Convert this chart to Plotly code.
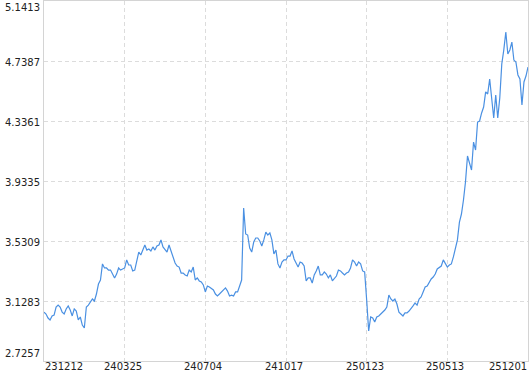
import plotly.graph_objects as go

# ---- data ----
values = [
    3.054, 3.041, 3.014, 3.001, 3.028, 3.034, 3.088, 3.101, 3.088, 3.054,
    3.041, 3.075, 3.095, 3.068, 3.028, 3.075, 3.061, 3.001, 3.021, 2.967,
    2.947, 3.088, 3.101, 3.122, 3.142, 3.128, 3.175, 3.242, 3.269, 3.377,
    3.350, 3.350, 3.336, 3.336, 3.309, 3.283, 3.309, 3.350, 3.336, 3.343,
    3.350, 3.404, 3.370, 3.370, 3.330, 3.336, 3.404, 3.457, 3.437, 3.477,
    3.504, 3.470, 3.477, 3.464, 3.491, 3.470, 3.497, 3.504, 3.538, 3.491,
    3.477, 3.457, 3.504, 3.464, 3.437, 3.383, 3.363, 3.356, 3.316, 3.316,
    3.303, 3.296, 3.336, 3.323, 3.356, 3.269, 3.283, 3.263, 3.256, 3.236,
    3.189, 3.229, 3.222, 3.209, 3.202, 3.175, 3.162, 3.175, 3.189, 3.209,
    3.216, 3.195, 3.162, 3.168, 3.162, 3.189, 3.189, 3.229, 3.269, 3.752,
    3.578, 3.571, 3.484, 3.457, 3.524, 3.551, 3.551, 3.531, 3.497, 3.538,
    3.591, 3.571, 3.585, 3.538, 3.444, 3.470, 3.377, 3.350, 3.390, 3.404,
    3.404, 3.430, 3.430, 3.464, 3.410, 3.383, 3.356, 3.390, 3.383, 3.363,
    3.263, 3.283, 3.283, 3.249, 3.303, 3.330, 3.363, 3.303, 3.303, 3.323,
    3.309, 3.283, 3.303, 3.263, 3.283, 3.296, 3.336, 3.330, 3.316, 3.303,
    3.316, 3.323, 3.350, 3.404, 3.390, 3.363, 3.390, 3.377, 3.330, 3.323,
    3.135, 2.927, 3.021, 3.014, 2.987, 3.021, 3.028, 3.041, 3.054, 3.068,
    3.088, 3.168, 3.142, 3.128, 3.142, 3.108, 3.054, 3.041, 3.028, 3.048,
    3.048, 3.061, 3.075, 3.095, 3.115, 3.101, 3.142, 3.155, 3.189, 3.222,
    3.229, 3.256, 3.276, 3.289, 3.309, 3.343, 3.356, 3.363, 3.404, 3.377,
    3.356, 3.370, 3.377, 3.424, 3.484, 3.538, 3.658, 3.712, 3.806, 3.927,
    4.101, 4.061, 4.007, 4.195, 4.141, 4.329, 4.336, 4.390, 4.430, 4.531,
    4.517, 4.618, 4.504, 4.356, 4.511, 4.356, 4.490, 4.719, 4.813, 4.933,
    4.786, 4.813, 4.866, 4.745, 4.732, 4.645, 4.618, 4.443, 4.598, 4.638,
    4.698,
]
x_tick_pos = [0, 40, 80, 120, 160, 200, 240]
x_tick_labels = ["231212", "240325", "240704", "241017", "250123", "250513", "251201"]
y_ticks = [2.7257, 3.1283, 3.5309, 3.9335, 4.3361, 4.7387, 5.1413]
y_tick_labels = ["2.7257", "3.1283", "3.5309", "3.9335", "4.3361", "4.7387", "5.1413"]

FONT = dict(family="DejaVu Sans", size=10, color="#222222")

fig = go.Figure()
fig.add_trace(go.Scatter(
    x=list(range(len(values))), y=values, mode="lines",
    line=dict(color="#4a90e2", width=1.2), hoverinfo="skip", showlegend=False,
))

annotations = []
n = len(x_tick_pos)
for k, (p, lab) in enumerate(zip(x_tick_pos, x_tick_labels)):
    anchor = "left" if k == 0 else ("right" if k == n - 1 else "center")
    annotations.append(dict(
        x=p, y=0, xref="x", yref="paper", text=lab, showarrow=False,
        xanchor=anchor, yanchor="top", yshift=1, borderpad=0,
        xshift=(-2 if anchor == "center" else 0),
        font=FONT,
    ))
m = len(y_ticks)
for k, (v, lab) in enumerate(zip(y_ticks, y_tick_labels)):
    ya = "bottom" if k == 0 else ("top" if k == m - 1 else "middle")
    annotations.append(dict(
        x=0, y=v, xref="paper", yref="y", text=lab, showarrow=False,
        xanchor="right", yanchor=ya, xshift=-3, borderpad=0,
        yshift=(1 if k == 0 else (0 if k == m - 1 else -1)),
        font=FONT,
    ))

fig.update_layout(
    width=530, height=374,
    margin=dict(l=44, r=2, t=1, b=13, pad=0),
    paper_bgcolor="white", plot_bgcolor="white",
    annotations=annotations,
)
fig.update_xaxes(
    range=[0, len(values) - 1], tickvals=x_tick_pos, showticklabels=False,
    showgrid=True, gridcolor="#dcdcdc", griddash="4px,3px", gridwidth=1,
    showline=True, linecolor="#d4d4d4", linewidth=1, mirror=True,
    zeroline=False, ticks="",
)
fig.update_yaxes(
    range=[y_ticks[0], y_ticks[-1]], tickvals=y_ticks, showticklabels=False,
    showgrid=True, gridcolor="#dcdcdc", griddash="4px,3px", gridwidth=1,
    showline=True, linecolor="#d4d4d4", linewidth=1, mirror=True,
    zeroline=False, ticks="",
)

fig.write_html("out.html", config={"displayModeBar": False})
